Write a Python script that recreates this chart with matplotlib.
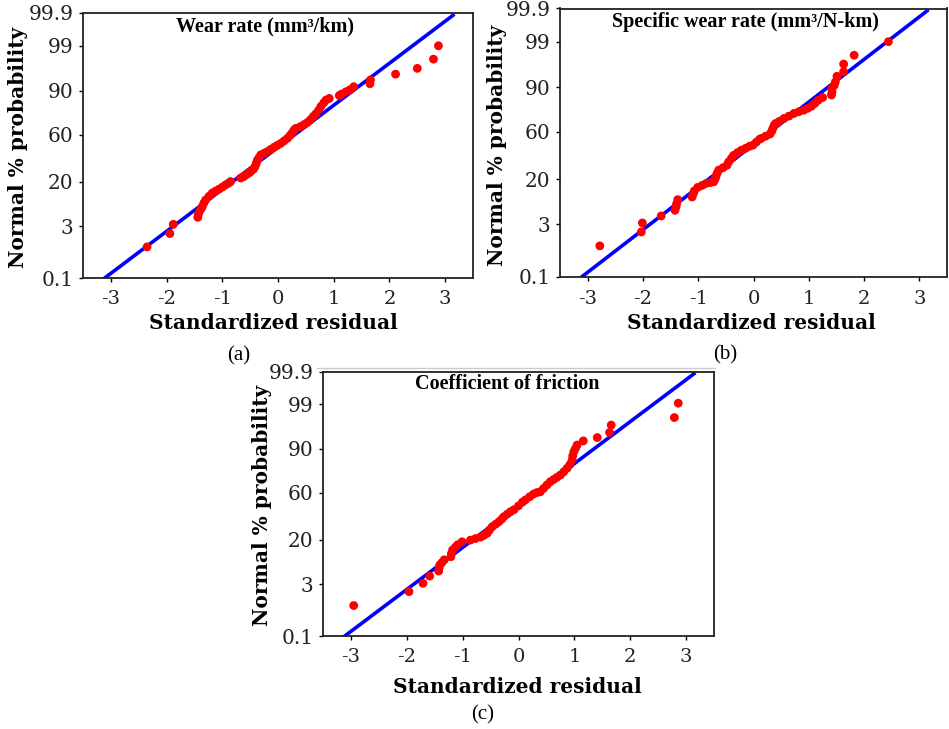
import matplotlib
matplotlib.use("Agg")
import matplotlib.pyplot as plt
from matplotlib.lines import Line2D
from statistics import NormalDist

plt.rcParams['axes.unicode_minus'] = False

# standardized residual vs normal % probability
wear_res = [-2.35, -1.94, -1.88, -1.44, -1.43, -1.41, -1.38, -1.36, -1.33, -1.30,
            -1.24, -1.18, -1.12, -1.06, -1.00, -0.94, -0.89, -0.85, -0.67, -0.62,
            -0.58, -0.53, -0.49, -0.44, -0.41, -0.39, -0.37, -0.34, -0.31, -0.25,
            -0.19, -0.13, -0.07, -0.01, 0.05, 0.11, 0.17, 0.22, 0.26, 0.29,
            0.32, 0.40, 0.47, 0.53, 0.58, 0.63, 0.68, 0.73, 0.77, 0.82,
            0.86, 0.92, 1.10, 1.14, 1.22, 1.29, 1.36, 1.65, 1.66, 2.11,
            2.50, 2.79, 2.88]
wear_prob = [0.9, 2.0, 3.3, 4.7, 5.4, 6.2, 7.0, 7.7, 9.0, 10.2,
             11.8, 13.4, 14.4, 15.4, 16.6, 17.9, 19.0, 20.0, 22.4, 23.3,
             24.5, 25.8, 27.1, 29.0, 31.2, 34.0, 36.7, 39.0, 41.3, 42.8,
             44.4, 46.4, 48.4, 50.2, 52.0, 54.3, 56.7, 59.5, 62.0, 64.1,
             65.5, 67.0, 68.8, 70.5, 72.5, 75.0, 77.0, 79.5, 81.9, 84.0,
             85.5, 86.4, 87.8, 88.5, 89.5, 90.3, 91.5, 92.5, 93.7, 95.2,
             96.4, 97.8, 99.0]

spec_res = [-2.78, -2.03, -2.01, -1.67, -1.42, -1.40, -1.39, -1.37, -1.11, -1.09,
            -1.07, -1.01, -0.93, -0.86, -0.79, -0.72, -0.70, -0.68, -0.66, -0.63,
            -0.55, -0.48, -0.45, -0.40, -0.36, -0.29, -0.22, -0.14, -0.07, -0.01,
            0.05, 0.11, 0.14, 0.22, 0.30, 0.33, 0.35, 0.375, 0.40, 0.47,
            0.55, 0.64, 0.73, 0.82, 0.91, 0.98, 1.05, 1.11, 1.17, 1.25,
            1.41, 1.42, 1.42, 1.46, 1.48, 1.51, 1.63, 1.63, 1.82, 2.44]
spec_prob = [0.88, 2.0, 3.25, 4.6, 6.0, 7.0, 8.1, 9.5, 10.6, 12.0,
             13.4, 15.2, 16.3, 17.4, 17.9, 18.4, 20.0, 21.6, 24.0, 26.4,
             28.3, 30.2, 33.0, 36.0, 38.6, 41.0, 43.2, 45.0, 46.8, 47.8,
             50.5, 53.2, 54.0, 56.0, 58.0, 60.5, 63.0, 65.7, 67.2, 69.0,
             71.2, 73.0, 75.0, 76.2, 77.3, 78.6, 80.0, 81.8, 83.6, 85.1,
             86.4, 88.0, 89.4, 90.7, 91.9, 93.7, 94.9, 96.5, 97.8, 99.0]

cof_res = [-2.95, -1.96, -1.71, -1.59, -1.43, -1.42, -1.41, -1.37, -1.33, -1.21,
           -1.20, -1.18, -1.13, -1.09, -1.01, -0.86, -0.77, -0.68, -0.62, -0.56,
           -0.52, -0.47, -0.41, -0.35, -0.30, -0.26, -0.20, -0.14, -0.08, 0.0,
           0.07, 0.125, 0.20, 0.27, 0.33, 0.39, 0.45, 0.51, 0.57, 0.63,
           0.69, 0.75, 0.81, 0.87, 0.92, 0.96, 0.97, 0.99, 1.02, 1.05,
           1.16, 1.41, 1.63, 1.66, 2.79, 2.86]
cof_prob = [0.87, 2.0, 3.15, 4.55, 5.8, 6.7, 7.6, 8.5, 9.5, 10.8,
            12.3, 14.0, 15.5, 16.9, 18.7, 19.8, 20.8, 21.8, 23.0, 24.5,
            27.0, 29.6, 31.6, 33.7, 36.0, 38.2, 40.5, 42.7, 44.5, 48.0,
            51.5, 53.6, 56.5, 59.0, 60.3, 61.0, 64.0, 67.0, 69.7, 71.5,
            73.2, 74.9, 77.2, 79.7, 82.0, 84.6, 86.8, 88.8, 90.2, 91.5,
            92.9, 93.9, 95.2, 96.7, 97.8, 99.06]

# reference normal line
line_res = [-3.11, 3.14]
line_prob = [0.1, 99.88]

prob_ticks = [0.1, 3, 20, 60, 90, 99, 99.9]
prob_labels = ['0.1', '3', '20', '60', '90', '99', '99.9']
res_ticks = [-3, -2, -1, 0, 1, 2, 3]
res_labels = ['-3', '-2', '-1', '0', '1', '2', '3']

titles = ['Wear rate (mm³/km)', 'Specific wear rate (mm³/N-km)', 'Coefficient of friction']
tags = ['(a)', '(b)', '(c)']

W, H = 949, 729
nd = NormalDist()


def z(p_list):
    return [nd.inv_cdf(p / 100.0) for p in p_list]


def px_axes(fig, left, top, right, bottom):
    return fig.add_axes([left / W, 1 - bottom / H, (right - left) / W, (bottom - top) / H])


def draw_panel(ax, res, prob, title, title_x):
    ax.plot(line_res, z(line_prob), color='#0000ff', lw=2.6, zorder=2)
    ax.scatter(res, z(prob), s=40, color='#ff0000', edgecolors='none', zorder=3)
    ax.set_xlim(-3.5, 3.5)
    ax.set_ylim(nd.inv_cdf(0.001), nd.inv_cdf(0.999))
    ax.set_xticks(res_ticks)
    ax.set_xticklabels(res_labels, family='DejaVu Serif', fontsize=14, color='#222222')
    ax.set_yticks(z(prob_ticks))
    ax.set_yticklabels(prob_labels, family='DejaVu Serif', fontsize=14.5, color='#222222')
    ax.tick_params(direction='out', length=3, width=1, pad=4)
    ax.tick_params(axis='x', pad=6)
    for s in ax.spines.values():
        s.set_linewidth(1.3)
        s.set_color('#222222')
    ax.text(title_x, 0.951, title, transform=ax.transAxes, ha='center', va='center',
            family='Liberation Serif', fontweight='bold', fontsize=14.5)


fig = plt.figure(figsize=(W / 100, H / 100), dpi=100)

panels = [
    ((83, 13, 473, 278), wear_res, wear_prob, 0.467, (18, 147), (273, 323), (239, 356)),
    ((560, 8.5, 947, 277), spec_res, spec_prob, 0.48, (497, 145), (751, 323), (725, 355)),
    ((323, 371.5, 714, 636), cof_res, cof_prob, 0.47, (262, 505), (517, 687), (483, 715)),
]

for i, (box, res, prob, tx, ylab, xlab, tag) in enumerate(panels):
    ax = px_axes(fig, *box)
    draw_panel(ax, res, prob, titles[i], tx)
    fig.text(ylab[0] / W, 1 - ylab[1] / H, 'Normal % probability', rotation=90,
             ha='center', va='center', family='DejaVu Serif', fontweight='bold', fontsize=14.5)
    fig.text(xlab[0] / W, 1 - xlab[1] / H, 'Standardized residual',
             ha='center', va='center', family='DejaVu Serif', fontweight='bold', fontsize=14.5)
    fig.text(tag[0] / W, 1 - tag[1] / H, tags[i], ha='center', va='center',
             family='Liberation Serif', fontsize=15)

# faint frame edge above the lower panel
fig.add_artist(Line2D([317 / W, 715 / W], [1 - 368 / H, 1 - 368 / H],
                      color='#cccccc', lw=1, transform=fig.transFigure))

fig.savefig('out.png', dpi=100)
